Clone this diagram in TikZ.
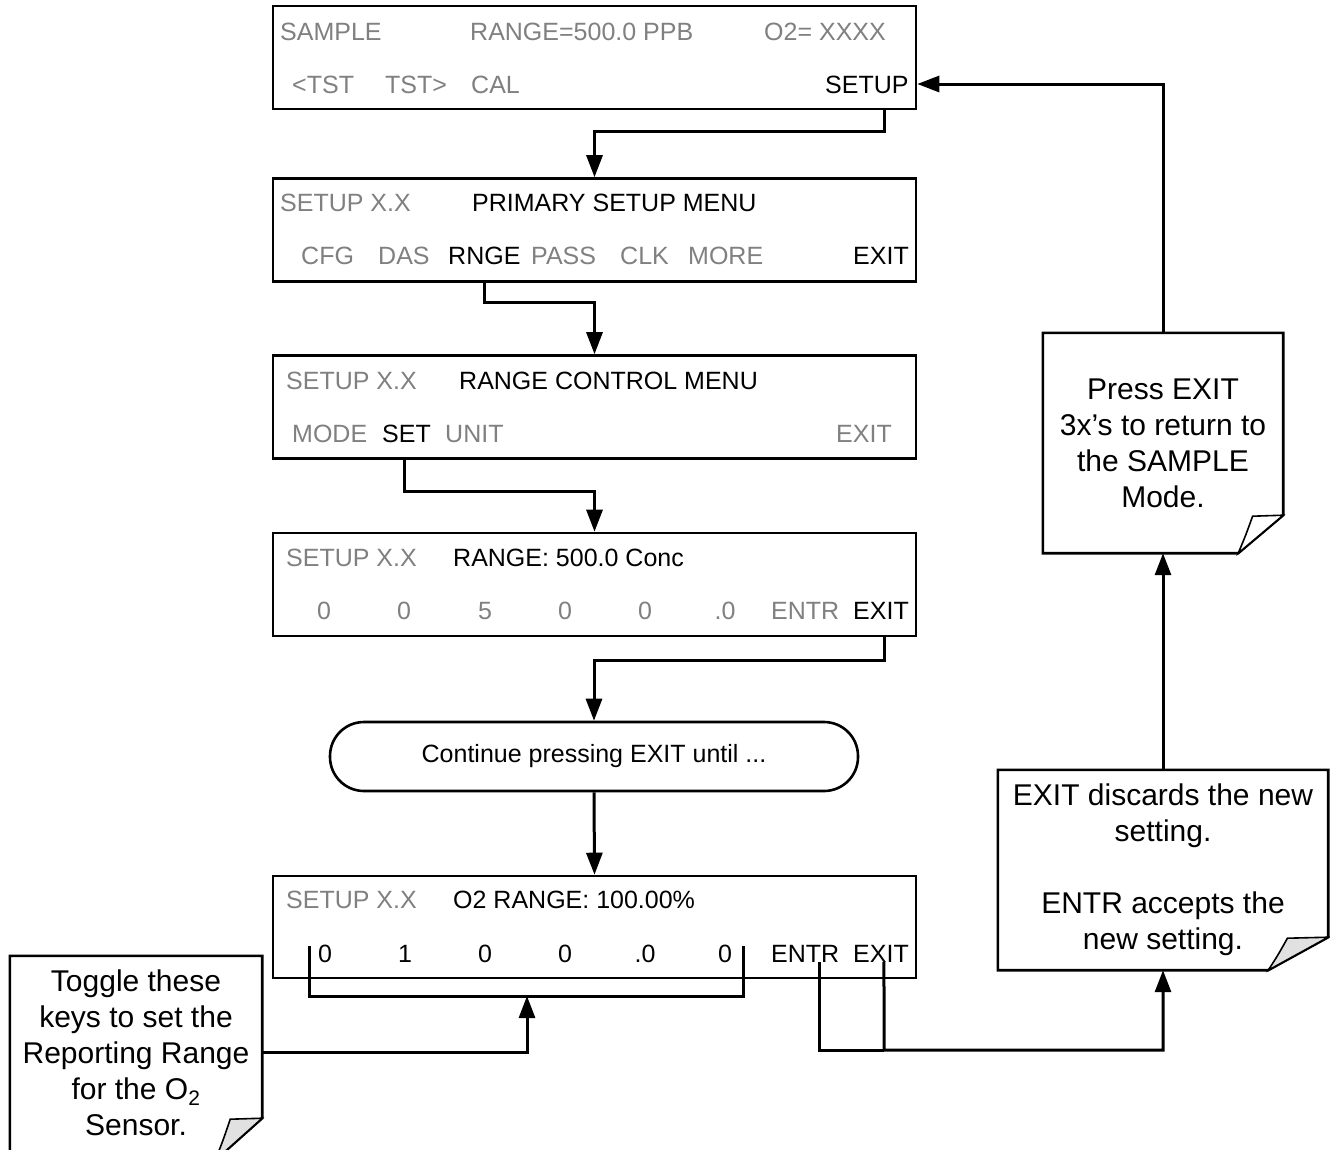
\documentclass[tikz,border=0pt]{standalone}
\usepackage{fontspec}
\setmainfont{Liberation Sans}
\usetikzlibrary{arrows.meta}
\definecolor{lcdgray}{RGB}{128,128,128}
\definecolor{flapgray}{RGB}{225,225,225}

\tikzset{
  screen/.style={draw, line width=2.6pt, minimum width=643pt, minimum height=103pt, inner sep=0pt},
  keyoff/.style={font=\fontsize{25}{30}\selectfont, text=lcdgray, inner sep=0pt, anchor=base west},
  keyon/.style={keyoff, text=black},
  flow/.style={line width=3pt, -{Triangle[length=22pt,width=16pt]}},
  link/.style={line width=3pt},
  notetext/.style={font=\fontsize{30}{36}\selectfont, align=center, inner sep=0pt},
  noteline/.style={line width=2.6pt, line join=miter},
}

% note outline with a curled lower right corner: node, fold width, fold height, flap colour
\newcommand{\curlnote}[4]{%
  \draw[noteline] (#1.north west) -- (#1.north east) -- ([yshift=#3]#1.south east)
    -- ([xshift=-#2]#1.south east) -- (#1.south west) -- cycle;
  \filldraw[line width=1.6pt, fill=#4] ([yshift=#3]#1.south east)
    -- ([xshift=-0.68*#2, yshift=#3-1pt]#1.south east)
    .. controls ([xshift=-0.84*#2, yshift=0.45*#3]#1.south east) .. ([xshift=-#2]#1.south east) -- cycle;
}

\begin{document}
\begin{tikzpicture}[x=1pt, y=-1pt]
\path[use as bounding box, fill=white] (0,0) rectangle (1330,1149);
\clip (0,0) rectangle (1330,1149);

% ── screens ──
\node[screen] (scrSample) at (594.5,57.5) {};
\node[screen] (scrSetup) at (594.5,230) {};
\node[screen] (scrRange) at (594.5,407) {};
\node[screen] (scrConc) at (594.5,584.5) {};
\node[screen, minimum height=102pt] (scrO2) at (594.5,927) {};

% SAMPLE screen
\node[keyoff] (smpMode) at (280,40) {SAMPLE};
\node[keyoff] (smpRange) at (470,40) {RANGE=500.0 PPB};
\node[keyoff] (smpO2) at (764,40) {O2= XXXX};
\node[keyoff] (smpTstL) at (292,93) {<TST};
\node[keyoff] (smpTstR) at (385,93) {TST>};
\node[keyoff] (smpCal) at (471,93) {CAL};
\node[keyon] (smpSetup) at (825,93) {SETUP};

% PRIMARY SETUP MENU screen
\node[keyoff] (setVer) at (280,211) {SETUP X.X};
\node[keyon] (setTitle) at (472,211) {PRIMARY SETUP MENU};
\node[keyoff] (setCfg) at (301,264) {CFG};
\node[keyoff] (setDas) at (378,264) {DAS};
\node[keyon] (setRnge) at (448,264) {RNGE};
\node[keyoff] (setPass) at (531,264) {PASS};
\node[keyoff] (setClk) at (620,264) {CLK};
\node[keyoff] (setMore) at (688,264) {MORE};
\node[keyon] (setExit) at (853,264) {EXIT};

% RANGE CONTROL MENU screen
\node[keyoff] (rngVer) at (286,389) {SETUP X.X};
\node[keyon] (rngTitle) at (459,389) {RANGE CONTROL MENU};
\node[keyoff] (rngMode) at (292,442) {MODE};
\node[keyon] (rngSet) at (382,442) {SET};
\node[keyoff] (rngUnit) at (445,442) {UNIT};
\node[keyoff] (rngExit) at (836,442) {EXIT};

% RANGE: 500.0 Conc screen
\node[keyoff] (cncVer) at (286,566) {SETUP X.X};
\node[keyon] (cncTitle) at (453,566) {RANGE: 500.0 Conc};
\foreach \x/\d [count=\i] in {324/0,404/0,485/5,565/0,645/0,725/.0}
  \node[keyoff, anchor=base] (cncD\i) at (\x,619) {\d};
\node[keyoff] (cncEntr) at (771,619) {ENTR};
\node[keyon] (cncExit) at (853,619) {EXIT};

% O2 RANGE screen
\node[keyoff] (oVer) at (286,908) {SETUP X.X};
\node[keyon] (oTitle) at (453,908) {O2 RANGE: 100.00\%};
\foreach \x/\d [count=\i] in {325/0,405/1,485/0,565/0,645/.0,725/0}
  \node[keyon, anchor=base] (oD\i) at (\x,962) {\d};
\node[keyon] (oEntr) at (771,962) {ENTR};
\node[keyon] (oExit) at (853,962) {EXIT};

% ── continue pill ──
\node[draw, line width=2.6pt, rounded corners=34pt, minimum width=528pt, minimum height=69pt,
      font=\fontsize{25}{30}\selectfont] (pill) at (594,756.5) {Continue pressing EXIT until ...};

% ── notes ──
\node[notetext, minimum width=240pt, minimum height=220pt] (noteExit) at (1163,443)
  {Press EXIT\\3x’s to return to\\the SAMPLE\\Mode.};
\node[notetext, minimum width=330pt, minimum height=200pt] (noteEntr) at (1163,870)
  {EXIT discards the new\\setting.\\[36pt]ENTR accepts the\\new setting.};
\node[minimum width=252pt, minimum height=204pt, inner sep=0pt] (noteToggle) at (136,1058) {};
\node[notetext] (toggleText) at (136,1053)
  {Toggle these\\keys to set the\\Reporting Range\\for the O\textsubscript{2}\\Sensor.};
\curlnote{noteExit}{45pt}{38pt}{white}
\curlnote{noteEntr}{60pt}{33pt}{flapgray}
\curlnote{noteToggle}{47pt}{42pt}{flapgray}

% ── connectors ──
\draw[flow] ([xshift=289.5pt]scrSample.south) -- ++(0,21) -| (scrSetup.north);
\draw[flow] ([xshift=-110.5pt]scrSetup.south) -- ++(0,20) -| (scrRange.north);
\draw[flow] ([xshift=-190.5pt]scrRange.south) -- ++(0,32) -| (scrConc.north);
\draw[flow] ([xshift=289.5pt]scrConc.south) -- ++(0,23) -| (pill.north);
\draw[flow] (pill.south) -- (scrO2.north);

% digit keys bracket
\draw[link] (309,946) -- (309,996) -- (743,996) -- (743,946);
\coordinate (brk) at (527,996);
\draw[flow] ([yshift=6pt]noteToggle.east) -| (brk);

% ENTR / EXIT keys to note
\coordinate (join) at (884,1050);
\draw[link] ([xshift=14pt]oEntr.south) |- (join);
\draw[flow] ([xshift=3pt]oExit.south) -- (join) -| (noteEntr.south);
\draw[flow] (noteEntr.north) -- (noteExit.south);
\draw[flow] (noteExit.north) |- ([yshift=-26.5pt]scrSample.east);

\end{tikzpicture}
\end{document}
